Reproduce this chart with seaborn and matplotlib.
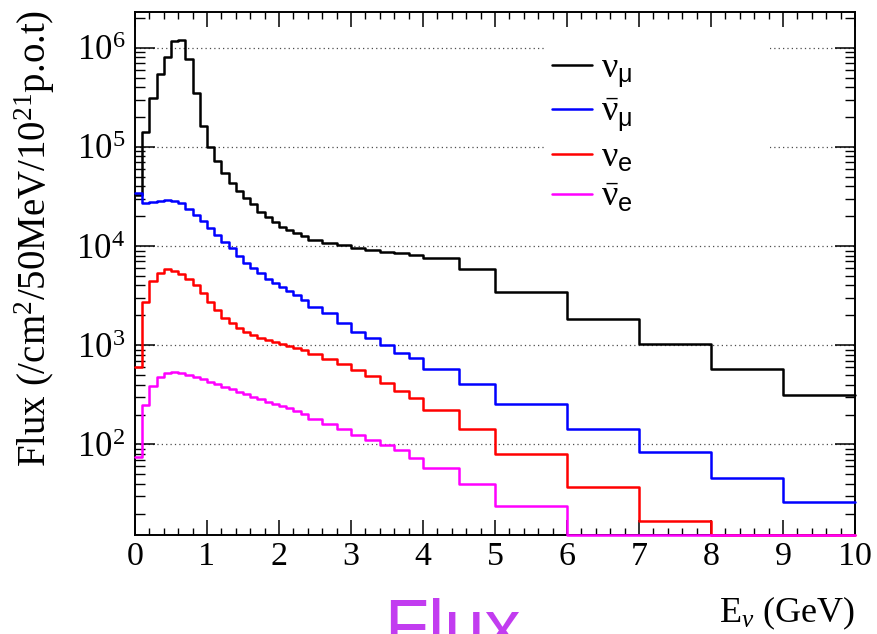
import numpy as np
import matplotlib
matplotlib.use("Agg")
import matplotlib.pyplot as plt
from matplotlib.ticker import MultipleLocator
import seaborn as sns

# bin edges in GeV (0.1 GeV up to 2.4, then 0.2, 0.5 and 1 GeV)
edges = [0.0, 0.1, 0.2, 0.3, 0.4, 0.5, 0.6, 0.7, 0.8, 0.9, 1.0,
         1.1, 1.2, 1.3, 1.4, 1.5, 1.6, 1.7, 1.8, 1.9, 2.0,
         2.1, 2.2, 2.3, 2.4, 2.6, 2.8, 3.0, 3.2, 3.4, 3.6, 3.8, 4.0,
         4.5, 5.0, 6.0, 7.0, 8.0, 9.0, 10.0]

numu = [3.3e4, 1.42e5, 3.13e5, 5.43e5, 8.0e5, 1.17e6, 1.20e6, 7.6e5, 3.47e5, 1.63e5,
        1.0e5, 7.2e4, 5.5e4, 4.36e4, 3.59e4, 3.08e4, 2.64e4, 2.22e4, 1.98e4, 1.74e4,
        1.57e4, 1.45e4, 1.35e4, 1.27e4, 1.15e4, 1.08e4, 1.02e4, 9.6e3, 9.2e3, 8.8e3,
        8.5e3, 8.2e3, 7.5e3, 5.8e3, 3.4e3, 1.83e3, 1.03e3, 580, 316]
numubar = [3.4e4, 2.7e4, 2.8e4, 2.87e4, 2.9e4, 2.85e4, 2.7e4, 2.35e4, 2.06e4, 1.79e4,
           1.51e4, 1.29e4, 1.11e4, 9.5e3, 7.9e3, 6.8e3, 6.0e3, 5.3e3, 4.7e3, 4.25e3,
           3.9e3, 3.55e3, 3.2e3, 2.85e3, 2.42e3, 2.1e3, 1.69e3, 1.37e3, 1.17e3, 1.0e3,
           840, 740, 573, 407, 256, 142, 84.6, 46, 26.5]
nue = [608, 2.75e3, 4.48e3, 5.4e3, 5.84e3, 5.65e3, 5.24e3, 4.63e3, 4.05e3, 3.34e3,
       2.75e3, 2.27e3, 1.9e3, 1.67e3, 1.48e3, 1.36e3, 1.27e3, 1.19e3, 1.13e3, 1.07e3,
       1.02e3, 984, 933, 884, 817, 722, 648, 563, 490, 414,
       349, 292, 223, 144, 80, 37, 17, 0, 0]
nuebar = [75, 250, 389, 476, 523, 538, 523, 502, 476, 454,
          430, 407, 383, 360, 340, 320, 303, 285, 270, 256,
          243, 232, 219, 203, 179, 161, 142, 125, 111, 99,
          87, 73, 57.5, 40, 24, 0, 0, 0, 0]

series = [
    (r"$\mathrm{\nu}_{\mathsf{\mu}}$", numu, "black"),
    (r"$\bar{\mathrm{\nu}}_{\mathsf{\mu}}$", numubar, "#0000ff"),
    (r"$\mathrm{\nu}_{\mathsf{e}}$", nue, "#ff0000"),
    (r"$\bar{\mathrm{\nu}}_{\mathsf{e}}$", nuebar, "#ff00ff"),
]

y_lo, y_hi = 12.2, 2.29e6

sns.set_theme(style="ticks")
plt.rcParams["font.family"] = ["Liberation Serif", "DejaVu Serif"]
plt.rcParams.update({"mathtext.fontset": "custom",
                     "mathtext.rm": "Liberation Serif",
                     "mathtext.it": "Liberation Serif:italic",
                     "mathtext.bf": "Liberation Serif:bold",
                     "mathtext.sf": "Liberation Sans"})
plt.rcParams.update({"text.color": "black", "axes.labelcolor": "black",
                     "xtick.color": "black", "ytick.color": "black",
                     "axes.edgecolor": "black"})

fig = plt.figure(figsize=(8.77, 6.34), dpi=100)
ax = fig.add_axes([0.1539, 0.1562, 0.8210, 0.8249])

edges_arr = np.array(edges)
centers = 0.5 * (edges_arr[:-1] + edges_arr[1:])
for label, vals, color in series:
    # empty bins sit on the floor of the log axis, as in ROOT
    w = np.maximum(np.array(vals, dtype=float), y_lo)
    sns.histplot(x=centers, weights=w, bins=edges, element="step", fill=False,
                 color=color, linewidth=1.8, label=label, ax=ax,
                 zorder=3, clip_on=False)

ax.set_yscale("log")
ax.set_xlim(0, 10)
ax.set_ylim(y_lo, y_hi)
ax.xaxis.set_major_locator(MultipleLocator(1))
ax.xaxis.set_minor_locator(MultipleLocator(0.2))

ax.yaxis.grid(True, which="major", linestyle=(0, (1, 2.5)), color="0.3", linewidth=0.9)
ax.xaxis.grid(False)
ax.set_axisbelow(True)

for sp in ax.spines.values():
    sp.set_linewidth(1.4)
    sp.set_color("black")

ax.tick_params(axis="both", which="both", direction="in", top=True, right=True,
               color="black", labelcolor="black")
ax.tick_params(axis="x", which="major", length=11, width=1.1, labelsize=24.5, pad=4.5)
ax.tick_params(axis="x", which="minor", length=5, width=1)
ax.tick_params(axis="y", which="major", length=14.5, width=1.1, labelsize=25, pad=7)
ax.tick_params(axis="y", which="minor", length=7, width=1)

ax.set_xlabel(r"E$_{\nu}$ (GeV)", fontsize=26, loc="right", va="baseline")
ax.xaxis.set_label_coords(1.0, -0.1663)
ax.set_ylabel(r"Flux (/cm$^{2}$/50MeV/10$^{21}$p.o.t)", fontsize=28, loc="top",
              va="baseline")
ax.yaxis.set_label_coords(-0.1236, 1.004)

leg = ax.legend(loc="upper left", bbox_to_anchor=(0.569, 0.0, 0.3125, 0.937),
                mode="expand", borderaxespad=0, fontsize=26, handlelength=1.1,
                handletextpad=0.25, labelspacing=0.2, borderpad=0.2,
                frameon=True, fancybox=False)
leg.get_frame().set_facecolor("white")
leg.get_frame().set_edgecolor("none")
leg.get_frame().set_alpha(1)
for h in leg.get_lines():
    h.set_linewidth(1.8)

fig.text(452 / 877, 1 - 649 / 634, "Flux", color="#c23cf0", fontsize=52,
         family="Liberation Sans", ha="center", va="baseline")

fig.savefig("out.png", dpi=100)
